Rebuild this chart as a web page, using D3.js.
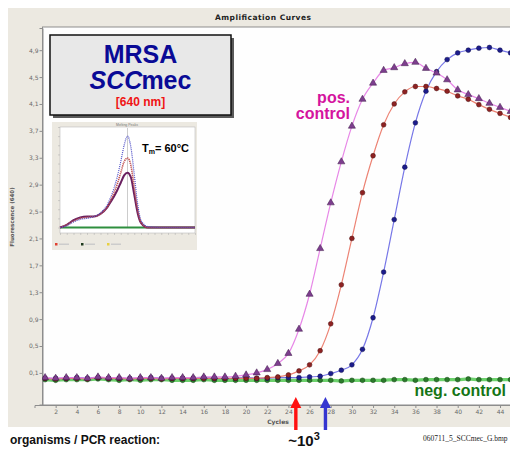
<!DOCTYPE html>
<html>
<head>
<meta charset="utf-8">
<script src="https://cdn.jsdelivr.net/npm/d3@7"></script>
<style>
    body { margin: 0; background: #fff; }
    svg { display: block; font-family: Arial, "Liberation Sans", sans-serif; }
</style>
</head>
<body>
<svg id="chart" width="510" height="451"></svg>
<script>
// amplification data
const cycles = [1, 2, 3, 4, 5, 6, 7, 8, 9, 10, 11, 12, 13, 14, 15, 16, 17, 18, 19, 20,
    21, 22, 23, 24, 25, 26, 27, 28, 29, 30, 31, 32, 33, 34, 35, 36, 37, 38, 39, 40,
    41, 42, 43, 44, 45]
const posPurple = [0.03, 0.02, 0.03, 0.03, 0.02, 0.04, 0.03, 0.03, 0.02, 0.03, 0.03, 0.02, 0.03, 0.03, 0.03,
    0.04, 0.04, 0.04, 0.05, 0.07, 0.10, 0.15, 0.24, 0.39, 0.75, 1.27, 1.95, 2.63, 3.24, 3.77,
    4.17, 4.41, 4.60, 4.64, 4.70, 4.72, 4.63, 4.56, 4.46, 4.31, 4.24, 4.18, 4.11, 4.05, 3.99]
const posRed = [0.02, 0.01, 0.02, 0.02, 0.01, 0.03, 0.02, 0.02, 0.01, 0.02, 0.02, 0.01, 0.02, 0.02, 0.02,
    0.02, 0.02, 0.02, 0.02, 0.02, 0.02, 0.03, 0.04, 0.07, 0.13, 0.22, 0.43, 0.83, 1.41, 2.10,
    2.78, 3.33, 3.79, 4.10, 4.28, 4.36, 4.36, 4.33, 4.29, 4.22, 4.17, 4.09, 4.02, 3.96, 3.90]
const posBlue = [0.02, 0.02, 0.02, 0.03, 0.02, 0.03, 0.02, 0.02, 0.02, 0.02, 0.03, 0.02, 0.02, 0.02, 0.02,
    0.03, 0.02, 0.02, 0.02, 0.03, 0.02, 0.02, 0.03, 0.03, 0.03, 0.04, 0.05, 0.09, 0.14, 0.22,
    0.45, 0.92, 1.60, 2.38, 3.16, 3.82, 4.29, 4.58, 4.76, 4.86, 4.90, 4.93, 4.94, 4.90, 4.86]
const negControl = [0.00, -0.01, 0.00, 0.00, 0.00, 0.01, 0.00, -0.01, 0.00, -0.01, 0.00, 0.00, -0.01, -0.01, -0.01,
    0.00, -0.01, -0.01, -0.01, -0.01, -0.01, -0.01, -0.01, -0.01, -0.01, -0.01, -0.01, -0.01, -0.02, -0.01,
    -0.01, -0.01, -0.01, 0.00, 0.00, -0.01, 0.00, 0.00, 0.00, 0.00, 0.01, 0.00, 0.00, 0.00, 0.00]

const yTicks = [0.1, 0.5, 0.9, 1.3, 1.7, 2.1, 2.5, 2.9, 3.3, 3.7, 4.1, 4.5, 4.9]
const xTicks = [2, 4, 6, 8, 10, 12, 14, 16, 18, 20, 22, 24, 26, 28, 30, 32, 34, 36, 38, 40, 42, 44]
const ctCycles = [24.7, 27.5]
const ctColors = ["#ff1010", "#3535d0"]

// melting peak inset data
const meltTemps = [40, 42, 44, 46, 48, 50, 52, 54, 55, 56, 57, 58, 59, 60, 61, 62, 63, 64, 66, 70, 75, 80]
const meltPurple = [0.0, 0.03, 0.08, 0.11, 0.12, 0.12, 0.15, 0.22, 0.28, 0.34, 0.41, 0.49, 0.57, 0.60, 0.55, 0.36, 0.16, 0.05, 0.0, 0.0, 0.0, 0.0]
const meltRed = [0.0, 0.03, 0.07, 0.10, 0.11, 0.12, 0.15, 0.23, 0.30, 0.38, 0.48, 0.60, 0.72, 0.76, 0.68, 0.44, 0.20, 0.06, 0.0, 0.0, 0.0, 0.0]
const meltBlue = [0.0, 0.02, 0.06, 0.09, 0.10, 0.12, 0.16, 0.25, 0.33, 0.43, 0.56, 0.72, 0.90, 1.0, 0.88, 0.58, 0.26, 0.08, 0.01, 0.0, 0.0, 0.0]
const meltNeg = [0.0, 0.0, 0.0, 0.0, 0.0, 0.0, 0.0, 0.0, 0.0, 0.0, 0.0, 0.0, 0.0, 0.0, 0.0, 0.0, 0.0, 0.0, 0.0, 0.0, 0.0, 0.0]
const meltTm = 60

const BEIGE = "#ece9e1"
const svg = d3.select("#chart")

svg.append("rect").attr("width", 510).attr("height", 451).attr("fill", "#fff")
svg.append("rect").attr("x", 8).attr("y", 8).attr("width", 502).attr("height", 419).attr("fill", BEIGE)

// title bar
svg.append("text")
    .attr("x", 263).attr("y", 19.5)
    .attr("text-anchor", "middle")
    .attr("font-family", "'DejaVu Sans', sans-serif")
    .attr("font-weight", "bold").attr("font-size", 7.5)
    .attr("textLength", 96).attr("fill", "#222")
    .text("Amplification Curves")

const plot = {left: 42.5, right: 512, top: 27, bottom: 405}

svg.append("rect")
    .attr("x", plot.left).attr("y", plot.top)
    .attr("width", plot.right - plot.left).attr("height", plot.bottom - plot.top)
    .attr("fill", "#fefefe").attr("stroke", "#8d8d8d").attr("stroke-width", 1)

const x = d3.scaleLinear().domain([0, 45]).range([34.5, 510.6])
const y = d3.scaleLinear().domain([-0.37, 5.23]).range([404.5, 28])

svg.append("clipPath").attr("id", "plotClip")
    .append("rect")
    .attr("x", plot.left).attr("y", plot.top)
    .attr("width", plot.right - plot.left).attr("height", plot.bottom - plot.top)

// axes
const yAxis = svg.append("g")
    .attr("transform", `translate(${plot.left},0)`)
    .call(d3.axisLeft(y).tickValues(yTicks).tickSize(3)
        .tickFormat(d => d.toFixed(1).replace(".", ",")))
const xAxis = svg.append("g")
    .attr("transform", `translate(0,${plot.bottom})`)
    .call(d3.axisBottom(x).tickValues(xTicks).tickSize(3).tickFormat(d => d))

for (const ax of [yAxis, xAxis]) {
    ax.select(".domain").attr("stroke", "#8d8d8d")
    ax.selectAll(".tick line").attr("stroke", "#8d8d8d")
    ax.selectAll(".tick text")
        .attr("fill", "#6a6a6a").attr("font-size", 6)
        .attr("font-family", "'DejaVu Sans', sans-serif")
}
yAxis.selectAll(".tick text").attr("x", -4)
xAxis.selectAll(".tick text").attr("y", 5)

svg.append("text")
    .attr("transform", "translate(14,217) rotate(-90)")
    .attr("text-anchor", "middle")
    .attr("font-family", "'DejaVu Sans', sans-serif")
    .attr("font-size", 5.5).attr("font-weight", "bold").attr("fill", "#555")
    .text("Fluorescence (640)")
svg.append("text")
    .attr("x", 278).attr("y", 424)
    .attr("text-anchor", "middle")
    .attr("font-family", "'DejaVu Sans', sans-serif")
    .attr("font-size", 6).attr("font-weight", "bold").attr("fill", "#555")
    .text("Cycles")

// curves
const series = [
    {values: negControl, line: "#5ccc5c", width: 3.2, marker: "circle", fill: "#2a7a2a", stroke: "#173f17"},
    {values: posBlue, line: "#6868e4", width: 1.2, marker: "circle", fill: "#1c1c8c", stroke: "#10104a"},
    {values: posRed, line: "#ea7565", width: 1.2, marker: "circle", fill: "#8e2222", stroke: "#4a1010"},
    {values: posPurple, line: "#e47ae4", width: 1.2, marker: "triangle", fill: "#7d3e8e", stroke: "#3e1a48"},
]

const curves = svg.append("g").attr("clip-path", "url(#plotClip)")
const line = d3.line().x(d => x(d[0])).y(d => y(d[1])).curve(d3.curveMonotoneX)
const triangle = d3.symbol().type(d3.symbolTriangle).size(22)

series.forEach(s => {
    const pts = cycles.map((c, i) => [c, s.values[i]])
    curves.append("path")
        .datum(pts)
        .attr("d", line)
        .attr("fill", "none")
        .attr("stroke", s.line)
        .attr("stroke-width", s.width)
        .attr("opacity", 0.9)
    if (s.marker === "circle") {
        curves.selectAll(null)
            .data(pts)
            .enter()
            .append("circle")
            .attr("cx", d => x(d[0])).attr("cy", d => y(d[1]))
            .attr("r", 2.4)
            .attr("fill", s.fill).attr("stroke", s.stroke).attr("stroke-width", 0.5)
    } else {
        curves.selectAll(null)
            .data(pts)
            .enter()
            .append("path")
            .attr("d", triangle)
            .attr("transform", d => `translate(${x(d[0])},${y(d[1])})`)
            .attr("fill", s.fill).attr("stroke", s.stroke).attr("stroke-width", 0.5)
    }
})

// labels on the plot
svg.append("text")
    .attr("text-anchor", "end")
    .attr("font-size", 16).attr("font-weight", "bold").attr("fill", "#d4149e")
    .selectAll("tspan")
    .data(["pos.", "control"])
    .enter()
    .append("tspan")
    .attr("x", 350)
    .attr("y", (d, i) => 103 + i * 16)
    .text(d => d)

svg.append("text")
    .attr("x", 506).attr("y", 396)
    .attr("text-anchor", "end")
    .attr("font-size", 16).attr("font-weight", "bold").attr("fill", "#157515")
    .text("neg. control")

// MRSA box
const box = {x: 50, y: 35, w: 181, h: 80}
svg.append("rect")
    .attr("x", box.x + 3).attr("y", box.y + 3)
    .attr("width", box.w).attr("height", box.h)
    .attr("fill", "#5a5a5a")
svg.append("rect")
    .attr("x", box.x).attr("y", box.y)
    .attr("width", box.w).attr("height", box.h)
    .attr("fill", "#e8e8e8").attr("stroke", "#111").attr("stroke-width", 1.5)
svg.append("text")
    .attr("x", 140.5).attr("y", 63)
    .attr("text-anchor", "middle")
    .attr("font-size", 25).attr("font-weight", "bold").attr("fill", "#0a0a96")
    .text("MRSA")
const scc = svg.append("text")
    .attr("x", 140.5).attr("y", 89)
    .attr("text-anchor", "middle")
    .attr("font-size", 25).attr("font-weight", "bold").attr("fill", "#0a0a96")
scc.append("tspan").attr("font-style", "italic").text("SCC")
scc.append("tspan").attr("dx", -1).text("mec")
svg.append("text")
    .attr("x", 140.5).attr("y", 106)
    .attr("text-anchor", "middle")
    .attr("font-size", 12).attr("font-weight", "bold").attr("fill", "#f01414")
    .text("[640 nm]")

// melting peak inset
const inset = svg.append("g")
inset.append("rect")
    .attr("x", 52).attr("y", 122).attr("width", 145).attr("height", 128)
    .attr("fill", BEIGE)
inset.append("rect")
    .attr("x", 60).attr("y", 127).attr("width", 135).attr("height", 106)
    .attr("fill", "#fff").attr("stroke", "#bbb").attr("stroke-width", 0.6)
inset.append("text")
    .attr("x", 127).attr("y", 125.5)
    .attr("text-anchor", "middle")
    .attr("font-size", 3.5).attr("fill", "#777")
    .text("Melting Peaks")

const mx = d3.scaleLinear().domain([40, 80]).range([60, 195])
const my = d3.scaleLinear().domain([-0.06, 1.1]).range([233, 127])

inset.append("g")
    .attr("transform", "translate(60,0)")
    .call(d3.axisLeft(my).ticks(12).tickSize(2).tickFormat(""))
    .call(g => g.select(".domain").remove())
    .call(g => g.selectAll("line").attr("stroke", "#aaa").attr("stroke-width", 0.5))
inset.append("g")
    .attr("transform", "translate(0,233)")
    .call(d3.axisBottom(mx).ticks(16).tickSize(2).tickFormat(""))
    .call(g => g.select(".domain").remove())
    .call(g => g.selectAll("line").attr("stroke", "#aaa").attr("stroke-width", 0.5))
inset.append("line")
    .attr("x1", mx(meltTm)).attr("x2", mx(meltTm))
    .attr("y1", my(0)).attr("y2", 128)
    .attr("stroke", "#aaa").attr("stroke-width", 0.6)

const mline = d3.line().x(d => mx(d[0])).y(d => my(d[1])).curve(d3.curveMonotoneX)
const meltSeries = [
    {values: meltNeg, color: "#2f8f3f", width: 2.2, dash: null},
    {values: meltPurple, color: "#6a2060", width: 2, dash: null},
    {values: meltRed, color: "#c05050", width: 1.6, dash: "1.2,0.8"},
    {values: meltBlue, color: "#5050c8", width: 1.2, dash: "1,1"},
]
meltSeries.forEach(s => {
    inset.append("path")
        .datum(meltTemps.map((t, i) => [t, s.values[i]]))
        .attr("d", mline)
        .attr("fill", "none")
        .attr("stroke", s.color)
        .attr("stroke-width", s.width)
        .attr("stroke-dasharray", s.dash)
})

// inset legend
const legendColors = ["#e04030", "#1e3a1e", "#e8d040"]
inset.selectAll(null)
    .data(legendColors)
    .enter()
    .append("rect")
    .attr("x", (d, i) => 55 + i * 26).attr("y", 243)
    .attr("width", 2.5).attr("height", 2.5)
    .attr("fill", d => d)
inset.selectAll(null)
    .data(legendColors)
    .enter()
    .append("rect")
    .attr("x", (d, i) => 59 + i * 26).attr("y", 243.5)
    .attr("width", 10).attr("height", 1.5)
    .attr("fill", "#ccc")

const tm = svg.append("text")
    .attr("x", 142).attr("y", 152)
    .attr("font-size", 11).attr("font-weight", "bold").attr("fill", "#000")
tm.append("tspan").text("T")
tm.append("tspan").attr("font-size", 7).attr("dy", 2).text("m")
tm.append("tspan").attr("dy", -2).text("= 60°C")

// Ct arrows
const arrows = svg.append("g")
ctCycles.forEach((c, i) => {
    const cx = x(c)
    arrows.append("rect")
        .attr("x", cx - 1.7).attr("y", 406).attr("width", 3.4).attr("height", 24)
        .attr("fill", ctColors[i])
    arrows.append("path")
        .attr("d", `M${cx},397 L${cx + 5.5},408 L${cx - 5.5},408 Z`)
        .attr("fill", ctColors[i])
})

// bottom texts
svg.append("text")
    .attr("x", 10).attr("y", 444)
    .attr("font-size", 12).attr("font-weight", "bold").attr("fill", "#111")
    .text("organisms / PCR reaction:")

const conc = svg.append("text")
    .attr("x", 304).attr("y", 446)
    .attr("text-anchor", "middle")
    .attr("font-size", 15).attr("font-weight", "bold").attr("fill", "#111")
conc.append("tspan").text("~10")
conc.append("tspan").attr("font-size", 11).attr("dy", -6).text("3")

svg.append("text")
    .attr("x", 423).attr("y", 441)
    .attr("font-family", "'Liberation Serif', 'Times New Roman', serif")
    .attr("font-size", 7.5).attr("fill", "#222")
    .text("060711_5_SCCmec_G.bmp")
</script>
</body>
</html>
